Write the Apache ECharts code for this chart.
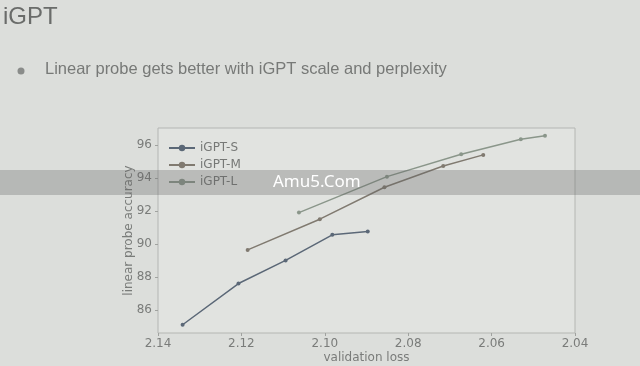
<!DOCTYPE html>
<html><head><meta charset="utf-8">
<script src="https://cdn.jsdelivr.net/npm/echarts@6/dist/echarts.min.js"></script>
<style>html,body{margin:0;padding:0;background:#dcdedb;}#c{width:640px;height:366px;}</style>
</head><body><div id="c"></div>
<script>
const seriesNames = ['iGPT-S', 'iGPT-M', 'iGPT-L'];
const lossS = [2.1341, 2.1207, 2.1094, 2.0982, 2.0897];
const accS  = [85.1, 87.6, 89.0, 90.55, 90.75];
const lossM = [2.1185, 2.1012, 2.0857, 2.0716, 2.0620];
const accM  = [89.64, 91.5, 93.44, 94.73, 95.4];
const lossL = [2.1062, 2.0851, 2.0673, 2.0530, 2.0472];
const accL  = [91.9, 94.08, 95.44, 96.35, 96.56];
const yTicks = [86, 88, 90, 92, 94, 96];
const xTicks = [2.14, 2.12, 2.10, 2.08, 2.06, 2.04];
const colors = ['#5b6877', '#807a70', '#8a968a'];

const pair = (xs, ys) => xs.map((x, i) => [x, ys[i]]);
const data = [pair(lossS, accS), pair(lossM, accM), pair(lossL, accL)];

const chart = echarts.init(document.getElementById('c'));
const axisFont = { color: '#7a7c7a', fontSize: 12, fontFamily: 'DejaVu Sans' };
chart.setOption({
  backgroundColor: '#dcdedb',
  animation: false,
  grid: { left: 158, right: 65, top: 128, bottom: 33, outerBoundsMode: 'none', containLabel: false, show: true, backgroundColor: '#e1e3e0', borderColor: '#b4b6b3', borderWidth: 1 },
  legend: {
    data: seriesNames, orient: 'vertical', left: 163, top: 137, itemWidth: 26, itemHeight: 8, itemGap: 5,
    textStyle: { color: '#767876', fontSize: 12, fontFamily: 'DejaVu Sans' }
  },
  xAxis: {
    type: 'value', inverse: true, min: 2.04, max: 2.14,
    name: 'validation loss', nameLocation: 'middle', nameGap: 19, nameMoveOverlap: false,
    nameTextStyle: { color: '#7a7c7a', fontSize: 12, fontFamily: 'DejaVu Sans' },
    axisLine: { show: false }, splitLine: { show: false },
    axisTick: { show: true, length: 3, lineStyle: { color: '#a0a29f' }, customValues: xTicks },
    axisLabel: Object.assign({ margin: 5, customValues: xTicks, formatter: v => v.toFixed(2) }, axisFont)
  },
  yAxis: {
    type: 'value', min: 84.6, max: 97.03,
    name: 'linear probe accuracy', nameLocation: 'middle', nameGap: 23, nameMoveOverlap: false,
    nameTextStyle: { color: '#7a7c7a', fontSize: 12, fontFamily: 'DejaVu Sans' },
    axisLine: { show: false }, splitLine: { show: false },
    axisTick: { show: true, length: 3, lineStyle: { color: '#a0a29f' }, customValues: yTicks },
    axisLabel: Object.assign({ margin: 6, customValues: yTicks }, axisFont)
  },
  series: seriesNames.map((n, i) => ({
    name: n, type: 'line', data: data[i], color: colors[i],
    symbol: 'circle', symbolSize: 4, lineStyle: { width: 1.5 }
  })),
  graphic: [
    { type: 'text', left: 3, top: 5, style: { text: 'iGPT', fill: '#6a6c6a', font: '24px "Liberation Sans"' } },
    { type: 'circle', shape: { cx: 21, cy: 71, r: 3.5 }, style: { fill: '#8a8c8a' } },
    { type: 'text', left: 45, top: 61, style: { text: 'Linear probe gets better with iGPT scale and perplexity', fill: '#777977', font: '16.5px "Liberation Sans"' } },
    { type: 'rect', shape: { x: 0, y: 170, width: 640, height: 25 }, style: { fill: 'rgba(95,97,95,0.3)' }, z: 100 },
    { type: 'text', left: 273, top: 174, style: { text: 'Amu5.Com', fill: '#ffffff', font: '17px "Noto Sans"' }, z: 101 }
  ]
});
</script></body></html>
